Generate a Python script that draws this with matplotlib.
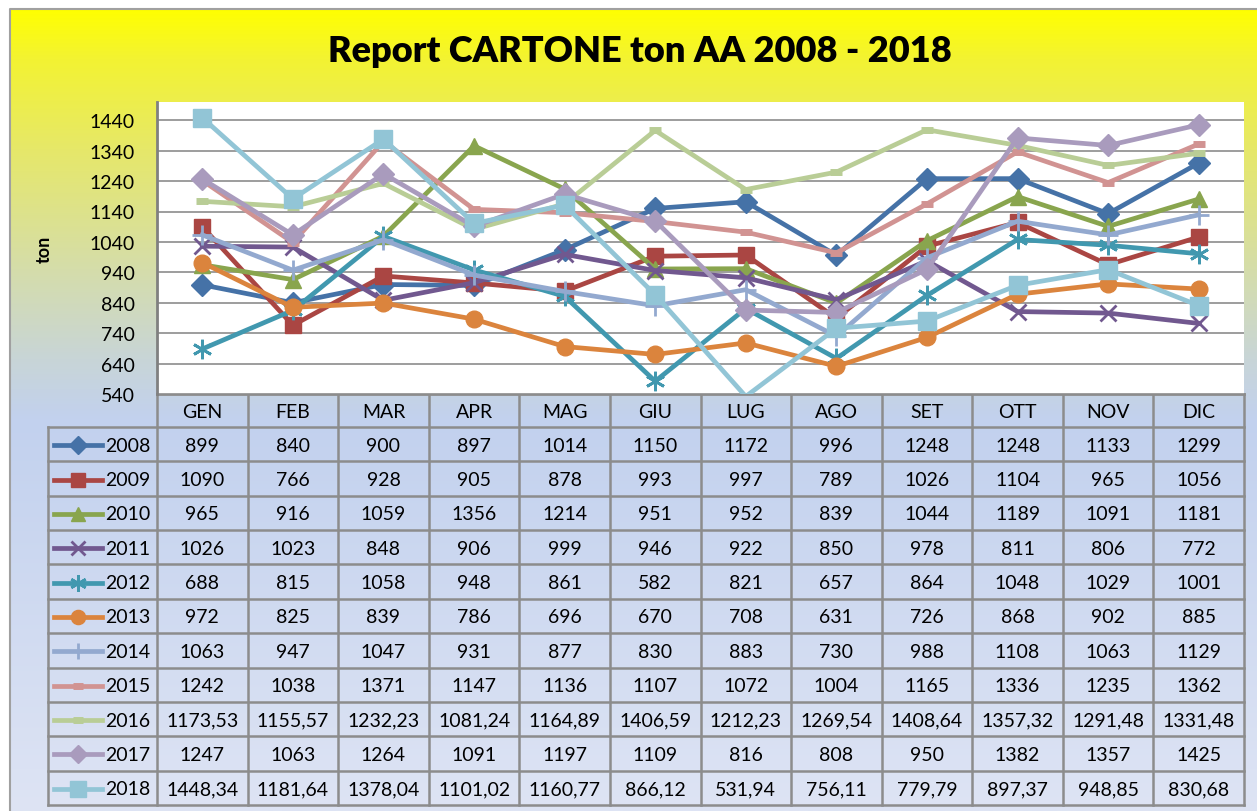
#!/usr/bin/env python
# report cartone: monthly tons per year, line chart with data table below

import matplotlib
matplotlib.use('Agg')

import matplotlib.pyplot as plt
from matplotlib.lines import Line2D
import numpy as np

# data
months = ['GEN', 'FEB', 'MAR', 'APR', 'MAG', 'GIU', 'LUG', 'AGO', 'SET', 'OTT', 'NOV', 'DIC']
years = ['2008', '2009', '2010', '2011', '2012', '2013', '2014', '2015', '2016', '2017', '2018']

v2008 = [899, 840, 900, 897, 1014, 1150, 1172, 996, 1248, 1248, 1133, 1299]
v2009 = [1090, 766, 928, 905, 878, 993, 997, 789, 1026, 1104, 965, 1056]
v2010 = [965, 916, 1059, 1356, 1214, 951, 952, 839, 1044, 1189, 1091, 1181]
v2011 = [1026, 1023, 848, 906, 999, 946, 922, 850, 978, 811, 806, 772]
v2012 = [688, 815, 1058, 948, 861, 582, 821, 657, 864, 1048, 1029, 1001]
v2013 = [972, 825, 839, 786, 696, 670, 708, 631, 726, 868, 902, 885]
v2014 = [1063, 947, 1047, 931, 877, 830, 883, 730, 988, 1108, 1063, 1129]
v2015 = [1242, 1038, 1371, 1147, 1136, 1107, 1072, 1004, 1165, 1336, 1235, 1362]
v2016 = [1173.53, 1155.57, 1232.23, 1081.24, 1164.89, 1406.59, 1212.23, 1269.54, 1408.64, 1357.32, 1291.48, 1331.48]
v2017 = [1247, 1063, 1264, 1091, 1197, 1109, 816, 808, 950, 1382, 1357, 1425]
v2018 = [1448.34, 1181.64, 1378.04, 1101.02, 1160.77, 866.12, 531.94, 756.11, 779.79, 897.37, 948.85, 830.68]

series = [v2008, v2009, v2010, v2011, v2012, v2013, v2014, v2015, v2016, v2017, v2018]
yticks = [540, 640, 740, 840, 940, 1040, 1140, 1240, 1340, 1440]

# styles (excel 2010 palette)
colors = ['#4572A7', '#AA4643', '#89A54E', '#71588F', '#4198AF', '#DB843D',
          '#93A9CF', '#D19392', '#B9CD96', '#A99BBD', '#92C5D6']
markers = ['D', 's', '^', 'x', (6, 2, 0), 'o', '+', '_', '_', 'D', 's']
msizes = [11, 12, 12, 12, 14, 12, 14, 9, 9, 11, 13]
mews = [1, 1, 1, 2, 2, 1, 2, 5, 5, 1, 1]

plt.rcParams['font.family'] = ['Lato', 'DejaVu Sans']
fs = 14

W, H = 1257, 812
fig = plt.figure(figsize=(W / 100, H / 100), dpi=100)

# background in pixel coords
bg = fig.add_axes([0, 0, 1, 1])
bg.set_xlim(0, W)
bg.set_ylim(H, 0)
bg.axis('off')

stops_y = [10, 60, 150, 270, 360, 420, 812]
stops_c = np.array([(255, 255, 0), (243, 243, 50), (230, 232, 105), (213, 221, 170),
                    (200, 213, 215), (194, 209, 238), (222, 228, 244)]) / 255.0
yy = np.arange(10, H + 1)
grad = np.stack([np.interp(yy, stops_y, stops_c[:, k]) for k in range(3)], axis=-1)
grad = grad[:, None, :]
bg.imshow(grad, extent=(10, W, H, 10), aspect='auto', zorder=0)
bg.plot([10, 10, W], [H, 10, 10], color='#A0A0A0', lw=1.5, zorder=1)

fig.text(640 / W, 1 - 52 / H, 'Report CARTONE ton AA 2008 - 2018',
         ha='center', va='center', fontsize=26, fontweight='heavy')

# chart area
px_l, px_r, px_t, px_b = 157, 1244, 103, 395
ax = fig.add_axes([px_l / W, 1 - px_b / H, (px_r - px_l) / W, (px_b - px_t) / H])
ax.set_facecolor('white')
x = np.arange(len(months))
for vals, c, m, ms, mew in zip(series, colors, markers, msizes, mews):
    keep = [i for i, v in enumerate(vals) if v >= yticks[0]]
    ax.plot(x, vals, color=c, lw=3.4, marker=m, markersize=ms, markeredgewidth=mew,
            markeredgecolor=c, markerfacecolor=c, markevery=keep, zorder=3)
ax.set_xlim(-0.5, len(months) - 0.5)
ax.set_ylim(540, 1500)
ax.set_yticks(yticks)
ax.set_xticks([])
ax.grid(axis='y', color='#8C8C8C', lw=1.2, zorder=1)
ax.set_axisbelow(True)
ax.tick_params(axis='y', length=0, pad=16, labelsize=fs)
for s in ['top', 'right', 'bottom']:
    ax.spines[s].set_visible(False)
ax.spines['left'].set_color('#808080')
ax.spines['left'].set_linewidth(2)
ax.set_ylabel('ton', fontsize=13, fontweight='bold')
ax.yaxis.set_label_coords((53 - px_l) / (px_r - px_l), 0.5)

# data table below
tab_l = 48
col_w = (px_r - px_l) / len(months)
head_b = 428
row_h = (806 - head_b) / len(years)
gc = '#8C8C8C'
bg.plot([px_l, px_r], [px_b, px_b], color=gc, lw=2, zorder=2)
for k in range(len(years) + 1):
    yk = head_b + k * row_h
    bg.plot([tab_l, px_r], [yk, yk], color=gc, lw=1.8, zorder=2)
bg.plot([tab_l, tab_l], [head_b, 806], color=gc, lw=1.8, zorder=2)
for k in range(len(months) + 1):
    xk = px_l + k * col_w
    bg.plot([xk, xk], [px_b, 806], color=gc, lw=1.8, zorder=2)

for j, mth in enumerate(months):
    bg.text(px_l + (j + 0.5) * col_w, (px_b + head_b) / 2 + 1, mth,
            ha='center', va='center', fontsize=fs, zorder=3)

for i, (yr, vals) in enumerate(zip(years, series)):
    yc = head_b + (i + 0.5) * row_h + 1
    c = colors[i]
    bg.add_line(Line2D([54, 102], [yc, yc], color=c, lw=3.4, zorder=3))
    bg.add_line(Line2D([78], [yc], color=c, marker=markers[i], markersize=msizes[i] * 0.85,
                       markeredgewidth=mews[i], markeredgecolor=c, markerfacecolor=c,
                       linestyle='none', zorder=4))
    bg.text(105, yc, yr, ha='left', va='center', fontsize=fs, zorder=3)
    for j, v in enumerate(vals):
        if float(v).is_integer():
            s = '%d' % v
        else:
            s = ('%.2f' % v).replace('.', ',')
        bg.text(px_l + (j + 0.5) * col_w, yc, s, ha='center', va='center',
                fontsize=fs, zorder=3)

plt.savefig('out.png', dpi=100)
